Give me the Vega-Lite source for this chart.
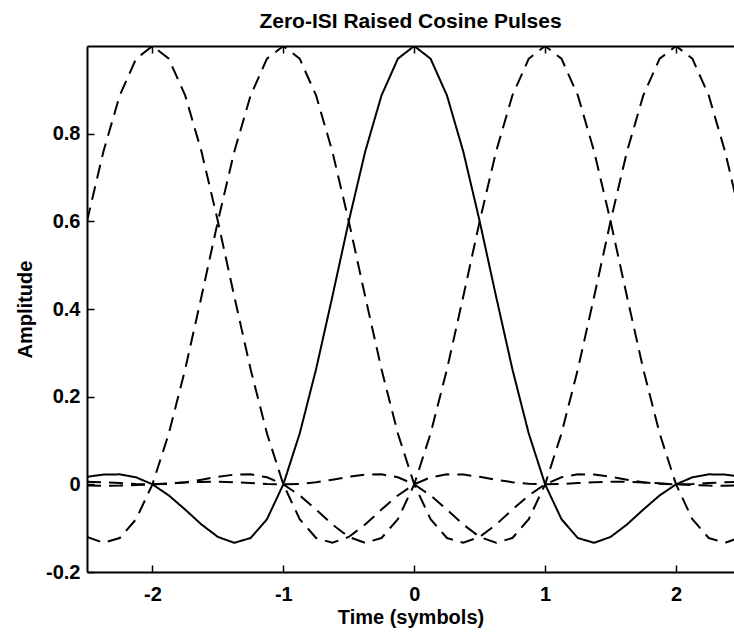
{
  "$schema": "https://vega.github.io/schema/vega-lite/v6.json",
  "autosize": "none",
  "padding": {"left": 87, "top": 46, "right": 0, "bottom": 64},
  "width": 647,
  "height": 526,
  "background": "white",
  "config": {
    "view": {"stroke": null},
    "font": "Liberation Sans",
    "axis": {"grid": false, "domainColor": "black", "domainWidth": 2, "tickColor": "black", "tickWidth": 1.5, "tickSize": -7, "labelColor": "black", "labelFont": "Liberation Sans", "labelFontSize": 20, "labelFontWeight": "bold", "titleColor": "black", "titleFont": "Liberation Sans", "titleFontSize": 20, "titleFontWeight": "bold"}
  },
  "title": {"text": "Zero-ISI Raised Cosine Pulses", "font": "Liberation Sans", "fontSize": 21, "fontWeight": "bold", "color": "black", "anchor": "middle", "offset": 13},
  "data": {"values": [
    {"x": -2.5, "pm2": 0.6002, "pm1": -0.1200, "p0": 0.0172, "p1": 0.0057, "p2": -0.0026},
    {"x": -2.375, "pm2": 0.7588, "pm1": -0.1334, "p0": 0.0222, "p1": 0.0047, "p2": -0.0031},
    {"x": -2.25, "pm2": 0.8872, "pm1": -0.1225, "p0": 0.0228, "p1": 0.0028, "p2": -0.0029},
    {"x": -2.125, "pm2": 0.9710, "pm1": -0.0795, "p0": 0.0160, "p1": 0.0009, "p2": -0.0018},
    {"x": -2.0, "pm2": 1.0, "pm1": 0.0, "p0": 0.0, "p1": 0.0, "p2": 0.0},
    {"x": -1.875, "pm2": 0.9710, "pm1": 0.1159, "p0": -0.0253, "p1": 0.0011, "p2": 0.0022},
    {"x": -1.75, "pm2": 0.8872, "pm1": 0.2625, "p0": -0.0576, "p1": 0.0048, "p2": 0.0043},
    {"x": -1.625, "pm2": 0.7588, "pm1": 0.4290, "p0": -0.0917, "p1": 0.0106, "p2": 0.0056},
    {"x": -1.5, "pm2": 0.6002, "pm1": 0.6002, "p0": -0.1200, "p1": 0.0172, "p2": 0.0057},
    {"x": -1.375, "pm2": 0.4290, "pm1": 0.7588, "p0": -0.1334, "p1": 0.0222, "p2": 0.0047},
    {"x": -1.25, "pm2": 0.2625, "pm1": 0.8872, "p0": -0.1225, "p1": 0.0228, "p2": 0.0028},
    {"x": -1.125, "pm2": 0.1159, "pm1": 0.9710, "p0": -0.0795, "p1": 0.0160, "p2": 0.0009},
    {"x": -1.0, "pm2": 0.0, "pm1": 1.0, "p0": 0.0, "p1": 0.0, "p2": 0.0},
    {"x": -0.875, "pm2": -0.0795, "pm1": 0.9710, "p0": 0.1159, "p1": -0.0253, "p2": 0.0011},
    {"x": -0.75, "pm2": -0.1225, "pm1": 0.8872, "p0": 0.2625, "p1": -0.0576, "p2": 0.0048},
    {"x": -0.625, "pm2": -0.1334, "pm1": 0.7588, "p0": 0.4290, "p1": -0.0917, "p2": 0.0106},
    {"x": -0.5, "pm2": -0.1200, "pm1": 0.6002, "p0": 0.6002, "p1": -0.1200, "p2": 0.0172},
    {"x": -0.375, "pm2": -0.0917, "pm1": 0.4290, "p0": 0.7588, "p1": -0.1334, "p2": 0.0222},
    {"x": -0.25, "pm2": -0.0576, "pm1": 0.2625, "p0": 0.8872, "p1": -0.1225, "p2": 0.0228},
    {"x": -0.125, "pm2": -0.0253, "pm1": 0.1159, "p0": 0.9710, "p1": -0.0795, "p2": 0.0160},
    {"x": 0.0, "pm2": 0.0, "pm1": 0.0, "p0": 1.0, "p1": 0.0, "p2": 0.0},
    {"x": 0.125, "pm2": 0.0160, "pm1": -0.0795, "p0": 0.9710, "p1": 0.1159, "p2": -0.0253},
    {"x": 0.25, "pm2": 0.0228, "pm1": -0.1225, "p0": 0.8872, "p1": 0.2625, "p2": -0.0576},
    {"x": 0.375, "pm2": 0.0222, "pm1": -0.1334, "p0": 0.7588, "p1": 0.4290, "p2": -0.0917},
    {"x": 0.5, "pm2": 0.0172, "pm1": -0.1200, "p0": 0.6002, "p1": 0.6002, "p2": -0.1200},
    {"x": 0.625, "pm2": 0.0106, "pm1": -0.0917, "p0": 0.4290, "p1": 0.7588, "p2": -0.1334},
    {"x": 0.75, "pm2": 0.0048, "pm1": -0.0576, "p0": 0.2625, "p1": 0.8872, "p2": -0.1225},
    {"x": 0.875, "pm2": 0.0011, "pm1": -0.0253, "p0": 0.1159, "p1": 0.9710, "p2": -0.0795},
    {"x": 1.0, "pm2": 0.0, "pm1": 0.0, "p0": 0.0, "p1": 1.0, "p2": 0.0},
    {"x": 1.125, "pm2": 0.0009, "pm1": 0.0160, "p0": -0.0795, "p1": 0.9710, "p2": 0.1159},
    {"x": 1.25, "pm2": 0.0028, "pm1": 0.0228, "p0": -0.1225, "p1": 0.8872, "p2": 0.2625},
    {"x": 1.375, "pm2": 0.0047, "pm1": 0.0222, "p0": -0.1334, "p1": 0.7588, "p2": 0.4290},
    {"x": 1.5, "pm2": 0.0057, "pm1": 0.0172, "p0": -0.1200, "p1": 0.6002, "p2": 0.6002},
    {"x": 1.625, "pm2": 0.0056, "pm1": 0.0106, "p0": -0.0917, "p1": 0.4290, "p2": 0.7588},
    {"x": 1.75, "pm2": 0.0043, "pm1": 0.0048, "p0": -0.0576, "p1": 0.2625, "p2": 0.8872},
    {"x": 1.875, "pm2": 0.0022, "pm1": 0.0011, "p0": -0.0253, "p1": 0.1159, "p2": 0.9710},
    {"x": 2.0, "pm2": 0.0, "pm1": 0.0, "p0": 0.0, "p1": 0.0, "p2": 1.0},
    {"x": 2.125, "pm2": -0.0018, "pm1": 0.0009, "p0": 0.0160, "p1": -0.0795, "p2": 0.9710},
    {"x": 2.25, "pm2": -0.0029, "pm1": 0.0028, "p0": 0.0228, "p1": -0.1225, "p2": 0.8872},
    {"x": 2.375, "pm2": -0.0031, "pm1": 0.0047, "p0": 0.0222, "p1": -0.1334, "p2": 0.7588},
    {"x": 2.5, "pm2": -0.0026, "pm1": 0.0057, "p0": 0.0172, "p1": -0.1200, "p2": 0.6002}
  ]},
  "transform": [{"fold": ["pm2", "pm1", "p0", "p1", "p2"], "as": ["pulse", "amp"]}],
  "layer": [
    {
      "mark": {"type": "line", "clip": true, "color": "black", "strokeWidth": 2},
      "encoding": {
        "x": {"field": "x", "type": "quantitative", "scale": {"domain": [-2.5, 2.443], "nice": false, "zero": false},
              "axis": {"orient": "bottom", "title": "Time (symbols)", "values": [-2, -1, 0, 1, 2], "labelExpr": "replace(format(datum.value, '~g'), '−', '-')", "labelPadding": 19, "titlePadding": 3}},
        "y": {"field": "amp", "type": "quantitative", "scale": {"domain": [-0.2, 1.0], "nice": false, "zero": false},
              "axis": {"title": "Amplitude", "values": [-0.2, 0, 0.2, 0.4, 0.6, 0.8], "labelExpr": "replace(format(datum.value, '~g'), '−', '-')", "labelPadding": 14, "titlePadding": 10}},
        "detail": {"field": "pulse"},
        "strokeDash": {"field": "pulse", "type": "nominal", "scale": {"domain": ["pm2", "pm1", "p0", "p1", "p2"], "range": [[14, 8], [14, 8], [1, 0], [14, 8], [14, 8]]}, "legend": null}
      }
    },
    {
      "mark": {"type": "point", "opacity": 0, "clip": true},
      "encoding": {
        "x": {"field": "x", "type": "quantitative", "axis": {"orient": "top", "title": null, "labels": false, "values": [-2, -1, 0, 1, 2]}},
        "y": {"field": "amp", "type": "quantitative"}
      }
    }
  ],
  "resolve": {"axis": {"x": "independent"}}
}
